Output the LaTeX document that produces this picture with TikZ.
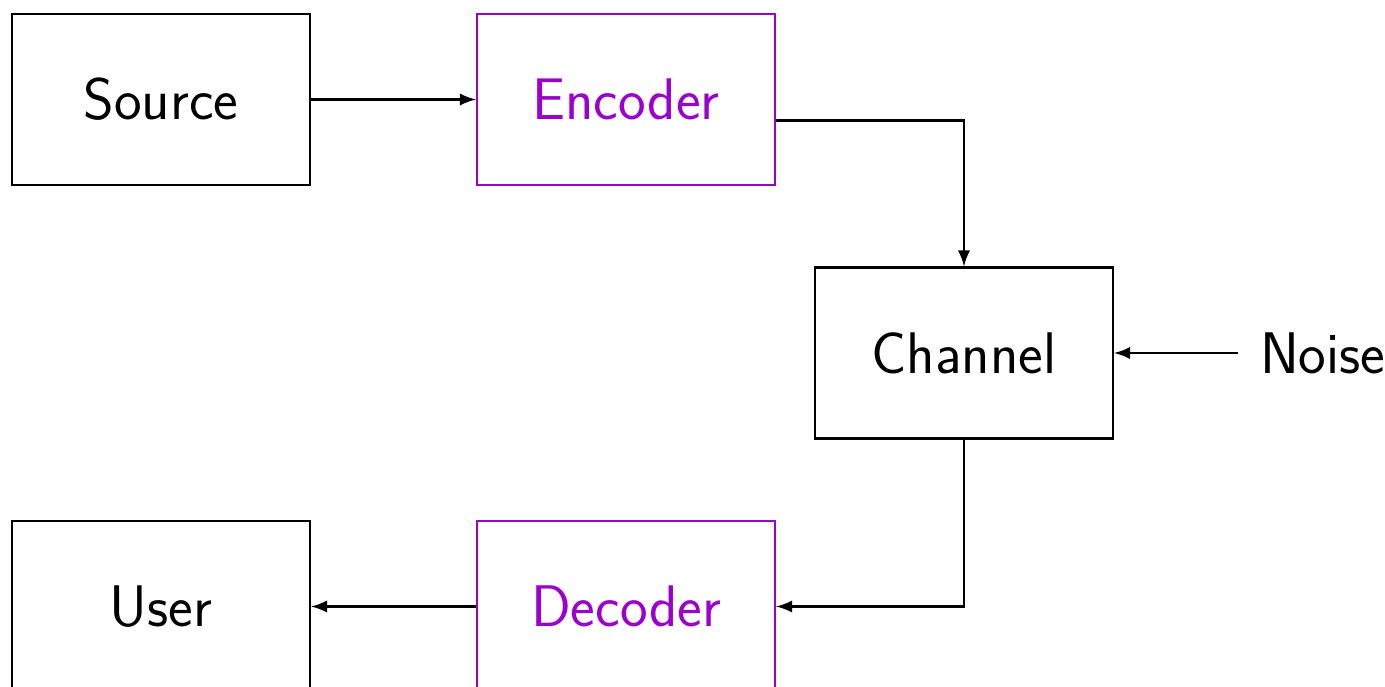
\documentclass[tikz,border=0pt]{standalone}
\usepackage{fontspec}
\definecolor{codercol}{RGB}{155,0,205}

\begin{document}
\begin{tikzpicture}[semithick, >=latex, font=\fontsize{16.7}{20}\selectfont\sffamily]
\tikzstyle{block}=[rectangle, draw, minimum width=2.98cm, minimum height=1.71cm, inner sep=0pt]
\tikzstyle{coder}=[block, draw=codercol, text=codercol]
\useasboundingbox (0,0) rectangle (13.85,-6.87);

\node[block] (Src) at (1.61,-0.995) {Source};
\node[coder] (Enc) at (6.26,-0.995) {Encoder};
\node[block] (Chn) at (9.64,-3.53) {Channel};
\node[anchor=west, inner xsep=0.21cm] (Noi) at (12.38,-3.53) {Noise};
\node[coder] (Dec) at (6.26,-6.065) {Decoder};
\node[block] (Usr) at (1.61,-6.065) {User};

\path[->]
(Src) edge (Enc)
(Noi) edge (Chn)
(Dec) edge (Usr);

\draw[->] ([yshift=-0.21cm]Enc.east) -| (Chn.north);
\draw[->] (Chn.south) |- (Dec.east);

\end{tikzpicture}
\end{document}
